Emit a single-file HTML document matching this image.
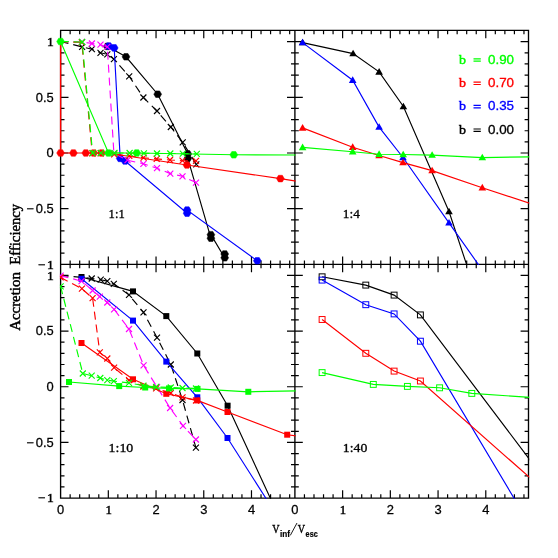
<!DOCTYPE html>
<html>
<head>
<meta charset="utf-8">
<title>Accretion Efficiency</title>
<style>
html,body{margin:0;padding:0;background:#ffffff;}
body{width:558px;height:558px;overflow:hidden;font-family:"Liberation Sans",sans-serif;}
svg{display:block;will-change:transform;}
</style>
</head>
<body>
<svg width="558" height="558" viewBox="0 0 558 558">
<defs>
<clipPath id="c1"><rect x="59.9" y="29.7" width="235.7" height="235.35"/></clipPath>
<clipPath id="c2"><rect x="294.2" y="29.7" width="235" height="235.35"/></clipPath>
<clipPath id="c3"><rect x="59.9" y="263.65" width="235.7" height="235.15"/></clipPath>
<clipPath id="c4"><rect x="294.2" y="263.65" width="235" height="235.15"/></clipPath>
</defs>
<rect width="558" height="558" fill="#ffffff"/>
<path d="M60.6 30.4H528.5V498.1H60.6ZM294.9 30.4V498.1M60.6 264.35H528.5" fill="none" stroke="#000" stroke-width="1.35" stroke-linecap="butt" stroke-linejoin="miter"/>
<path d="M70.14 30.4v3.9M70.14 260.45v7.8M70.14 498.1v-3.9M79.69 30.4v3.9M79.69 260.45v7.8M79.69 498.1v-3.9M89.23 30.4v3.9M89.23 260.45v7.8M89.23 498.1v-3.9M98.78 30.4v3.9M98.78 260.45v7.8M98.78 498.1v-3.9M108.32 30.4v7.9M108.32 256.45v15.8M108.32 498.1v-7.9M117.86 30.4v3.9M117.86 260.45v7.8M117.86 498.1v-3.9M127.41 30.4v3.9M127.41 260.45v7.8M127.41 498.1v-3.9M136.95 30.4v3.9M136.95 260.45v7.8M136.95 498.1v-3.9M146.5 30.4v3.9M146.5 260.45v7.8M146.5 498.1v-3.9M156.04 30.4v7.9M156.04 256.45v15.8M156.04 498.1v-7.9M165.58 30.4v3.9M165.58 260.45v7.8M165.58 498.1v-3.9M175.13 30.4v3.9M175.13 260.45v7.8M175.13 498.1v-3.9M184.67 30.4v3.9M184.67 260.45v7.8M184.67 498.1v-3.9M194.22 30.4v3.9M194.22 260.45v7.8M194.22 498.1v-3.9M203.76 30.4v7.9M203.76 256.45v15.8M203.76 498.1v-7.9M213.3 30.4v3.9M213.3 260.45v7.8M213.3 498.1v-3.9M222.85 30.4v3.9M222.85 260.45v7.8M222.85 498.1v-3.9M232.39 30.4v3.9M232.39 260.45v7.8M232.39 498.1v-3.9M241.94 30.4v3.9M241.94 260.45v7.8M241.94 498.1v-3.9M251.48 30.4v7.9M251.48 256.45v15.8M251.48 498.1v-7.9M261.02 30.4v3.9M261.02 260.45v7.8M261.02 498.1v-3.9M270.57 30.4v3.9M270.57 260.45v7.8M270.57 498.1v-3.9M280.11 30.4v3.9M280.11 260.45v7.8M280.11 498.1v-3.9M289.66 30.4v3.9M289.66 260.45v7.8M289.66 498.1v-3.9M304.44 30.4v3.9M304.44 260.45v7.8M304.44 498.1v-3.9M313.99 30.4v3.9M313.99 260.45v7.8M313.99 498.1v-3.9M323.53 30.4v3.9M323.53 260.45v7.8M323.53 498.1v-3.9M333.08 30.4v3.9M333.08 260.45v7.8M333.08 498.1v-3.9M342.62 30.4v7.9M342.62 256.45v15.8M342.62 498.1v-7.9M352.16 30.4v3.9M352.16 260.45v7.8M352.16 498.1v-3.9M361.71 30.4v3.9M361.71 260.45v7.8M361.71 498.1v-3.9M371.25 30.4v3.9M371.25 260.45v7.8M371.25 498.1v-3.9M380.8 30.4v3.9M380.8 260.45v7.8M380.8 498.1v-3.9M390.34 30.4v7.9M390.34 256.45v15.8M390.34 498.1v-7.9M399.88 30.4v3.9M399.88 260.45v7.8M399.88 498.1v-3.9M409.43 30.4v3.9M409.43 260.45v7.8M409.43 498.1v-3.9M418.97 30.4v3.9M418.97 260.45v7.8M418.97 498.1v-3.9M428.52 30.4v3.9M428.52 260.45v7.8M428.52 498.1v-3.9M438.06 30.4v7.9M438.06 256.45v15.8M438.06 498.1v-7.9M447.6 30.4v3.9M447.6 260.45v7.8M447.6 498.1v-3.9M457.15 30.4v3.9M457.15 260.45v7.8M457.15 498.1v-3.9M466.69 30.4v3.9M466.69 260.45v7.8M466.69 498.1v-3.9M476.24 30.4v3.9M476.24 260.45v7.8M476.24 498.1v-3.9M485.78 30.4v7.9M485.78 256.45v15.8M485.78 498.1v-7.9M495.32 30.4v3.9M495.32 260.45v7.8M495.32 498.1v-3.9M504.87 30.4v3.9M504.87 260.45v7.8M504.87 498.1v-3.9M514.41 30.4v3.9M514.41 260.45v7.8M514.41 498.1v-3.9M523.96 30.4v3.9M523.96 260.45v7.8M523.96 498.1v-3.9M60.6 253.22h3.9M291 253.22h7.8M528.5 253.22h-3.9M60.6 242.08h3.9M291 242.08h7.8M528.5 242.08h-3.9M60.6 230.94h3.9M291 230.94h7.8M528.5 230.94h-3.9M60.6 219.81h3.9M291 219.81h7.8M528.5 219.81h-3.9M60.6 208.68h7.9M287 208.68h15.8M528.5 208.68h-7.9M60.6 197.54h3.9M291 197.54h7.8M528.5 197.54h-3.9M60.6 186.41h3.9M291 186.41h7.8M528.5 186.41h-3.9M60.6 175.27h3.9M291 175.27h7.8M528.5 175.27h-3.9M60.6 164.13h3.9M291 164.13h7.8M528.5 164.13h-3.9M60.6 153h7.9M287 153h15.8M528.5 153h-7.9M60.6 141.87h3.9M291 141.87h7.8M528.5 141.87h-3.9M60.6 130.73h3.9M291 130.73h7.8M528.5 130.73h-3.9M60.6 119.59h3.9M291 119.59h7.8M528.5 119.59h-3.9M60.6 108.46h3.9M291 108.46h7.8M528.5 108.46h-3.9M60.6 97.33h7.9M287 97.33h15.8M528.5 97.33h-7.9M60.6 86.19h3.9M291 86.19h7.8M528.5 86.19h-3.9M60.6 75.05h3.9M291 75.05h7.8M528.5 75.05h-3.9M60.6 63.92h3.9M291 63.92h7.8M528.5 63.92h-3.9M60.6 52.78h3.9M291 52.78h7.8M528.5 52.78h-3.9M60.6 41.65h7.9M287 41.65h15.8M528.5 41.65h-7.9M60.6 486.97h3.9M291 486.97h7.8M528.5 486.97h-3.9M60.6 475.83h3.9M291 475.83h7.8M528.5 475.83h-3.9M60.6 464.69h3.9M291 464.69h7.8M528.5 464.69h-3.9M60.6 453.56h3.9M291 453.56h7.8M528.5 453.56h-3.9M60.6 442.43h7.9M287 442.43h15.8M528.5 442.43h-7.9M60.6 431.29h3.9M291 431.29h7.8M528.5 431.29h-3.9M60.6 420.15h3.9M291 420.15h7.8M528.5 420.15h-3.9M60.6 409.02h3.9M291 409.02h7.8M528.5 409.02h-3.9M60.6 397.88h3.9M291 397.88h7.8M528.5 397.88h-3.9M60.6 386.75h7.9M287 386.75h15.8M528.5 386.75h-7.9M60.6 375.62h3.9M291 375.62h7.8M528.5 375.62h-3.9M60.6 364.48h3.9M291 364.48h7.8M528.5 364.48h-3.9M60.6 353.35h3.9M291 353.35h7.8M528.5 353.35h-3.9M60.6 342.21h3.9M291 342.21h7.8M528.5 342.21h-3.9M60.6 331.07h7.9M287 331.07h15.8M528.5 331.07h-7.9M60.6 319.94h3.9M291 319.94h7.8M528.5 319.94h-3.9M60.6 308.81h3.9M291 308.81h7.8M528.5 308.81h-3.9M60.6 297.67h3.9M291 297.67h7.8M528.5 297.67h-3.9M60.6 286.53h3.9M291 286.53h7.8M528.5 286.53h-3.9M60.6 275.4h7.9M287 275.4h15.8M528.5 275.4h-7.9" fill="none" stroke="#000" stroke-width="1.2" stroke-linecap="butt"/>
<polyline points="107.5,46.4 126,56.8 157.7,94.2 187.8,153.9 187.8,158.4 210.9,238.2 210.9,234.7 224.7,257.8 224.7,254" fill="none" stroke="#000000" stroke-width="1.15" clip-path="url(#c1)"/>
<polygon points="111.4,46.4 109.45,49.71 105.55,49.71 103.6,46.4 105.55,43.09 109.45,43.09" fill="#000000" stroke="#000000" stroke-width="0.5" stroke-linejoin="round"/>
<polygon points="129.9,56.8 127.95,60.11 124.05,60.11 122.1,56.8 124.05,53.49 127.95,53.49" fill="#000000" stroke="#000000" stroke-width="0.5" stroke-linejoin="round"/>
<polygon points="161.6,94.2 159.65,97.51 155.75,97.51 153.8,94.2 155.75,90.89 159.65,90.89" fill="#000000" stroke="#000000" stroke-width="0.5" stroke-linejoin="round"/>
<polygon points="191.7,153.9 189.75,157.21 185.85,157.21 183.9,153.9 185.85,150.59 189.75,150.59" fill="#000000" stroke="#000000" stroke-width="0.5" stroke-linejoin="round"/>
<polygon points="191.7,158.4 189.75,161.71 185.85,161.71 183.9,158.4 185.85,155.09 189.75,155.09" fill="#000000" stroke="#000000" stroke-width="0.5" stroke-linejoin="round"/>
<polygon points="214.8,238.2 212.85,241.51 208.95,241.51 207,238.2 208.95,234.89 212.85,234.89" fill="#000000" stroke="#000000" stroke-width="0.5" stroke-linejoin="round"/>
<polygon points="214.8,234.7 212.85,238.01 208.95,238.01 207,234.7 208.95,231.39 212.85,231.39" fill="#000000" stroke="#000000" stroke-width="0.5" stroke-linejoin="round"/>
<polygon points="228.6,257.8 226.65,261.11 222.75,261.11 220.8,257.8 222.75,254.49 226.65,254.49" fill="#000000" stroke="#000000" stroke-width="0.5" stroke-linejoin="round"/>
<polygon points="228.6,254 226.65,257.31 222.75,257.31 220.8,254 222.75,250.69 226.65,250.69" fill="#000000" stroke="#000000" stroke-width="0.5" stroke-linejoin="round"/>
<polyline points="60.6,41.5 82.1,46.9 91.9,49.2 100.5,52.8 107.3,54.4 113.9,59.1 129.2,76.3 143.4,97.5 157,111 170.8,127 182.7,142.3 196.3,164.4" fill="none" stroke="#000000" stroke-width="1.15" stroke-dasharray="8 5" clip-path="url(#c1)"/>
<path d="M79.1 43.9L85.1 49.9M79.1 49.9L85.1 43.9M88.9 46.2L94.9 52.2M88.9 52.2L94.9 46.2M97.5 49.8L103.5 55.8M97.5 55.8L103.5 49.8M104.3 51.4L110.3 57.4M104.3 57.4L110.3 51.4M110.9 56.1L116.9 62.1M110.9 62.1L116.9 56.1M126.2 73.3L132.2 79.3M126.2 79.3L132.2 73.3M140.4 94.5L146.4 100.5M140.4 100.5L146.4 94.5M154 108L160 114M154 114L160 108M167.8 124L173.8 130M167.8 130L173.8 124M179.7 139.3L185.7 145.3M179.7 145.3L185.7 139.3M193.3 161.4L199.3 167.4M193.3 167.4L199.3 161.4" fill="none" stroke="#000000" stroke-width="1.15" clip-path="url(#c1)"/>
<polyline points="108.8,46.1 114.2,47.9 120.2,158.4 125.1,161 187.1,213.2 187.1,210.1 257.3,260.8" fill="none" stroke="#0000ff" stroke-width="1.15" clip-path="url(#c1)"/>
<polygon points="112.7,46.1 110.75,49.41 106.85,49.41 104.9,46.1 106.85,42.79 110.75,42.79" fill="#0000ff" stroke="#0000ff" stroke-width="0.5" stroke-linejoin="round"/>
<polygon points="118.1,47.9 116.15,51.21 112.25,51.21 110.3,47.9 112.25,44.59 116.15,44.59" fill="#0000ff" stroke="#0000ff" stroke-width="0.5" stroke-linejoin="round"/>
<polygon points="124.1,158.4 122.15,161.71 118.25,161.71 116.3,158.4 118.25,155.09 122.15,155.09" fill="#0000ff" stroke="#0000ff" stroke-width="0.5" stroke-linejoin="round"/>
<polygon points="129,161 127.05,164.31 123.15,164.31 121.2,161 123.15,157.69 127.05,157.69" fill="#0000ff" stroke="#0000ff" stroke-width="0.5" stroke-linejoin="round"/>
<polygon points="191,213.2 189.05,216.51 185.15,216.51 183.2,213.2 185.15,209.89 189.05,209.89" fill="#0000ff" stroke="#0000ff" stroke-width="0.5" stroke-linejoin="round"/>
<polygon points="191,210.1 189.05,213.41 185.15,213.41 183.2,210.1 185.15,206.79 189.05,206.79" fill="#0000ff" stroke="#0000ff" stroke-width="0.5" stroke-linejoin="round"/>
<polygon points="261.2,260.8 259.25,264.11 255.35,264.11 253.4,260.8 255.35,257.49 259.25,257.49" fill="#0000ff" stroke="#0000ff" stroke-width="0.5" stroke-linejoin="round"/>
<polyline points="60.6,41.5 82.1,42 91.9,43.5 100.5,44.7 107.3,46.9 113.9,153.3 127.5,160.2 143.4,163.8 157,168.2 170.3,173.6 182.5,176.3 196,182.6" fill="none" stroke="#ff00ff" stroke-width="1.15" stroke-dasharray="8 5" clip-path="url(#c1)"/>
<path d="M79.1 39L85.1 45M79.1 45L85.1 39M88.9 40.5L94.9 46.5M88.9 46.5L94.9 40.5M97.5 41.7L103.5 47.7M97.5 47.7L103.5 41.7M104.3 43.9L110.3 49.9M104.3 49.9L110.3 43.9M110.9 150.3L116.9 156.3M110.9 156.3L116.9 150.3M124.5 157.2L130.5 163.2M124.5 163.2L130.5 157.2M140.4 160.8L146.4 166.8M140.4 166.8L146.4 160.8M154 165.2L160 171.2M154 171.2L160 165.2M167.3 170.6L173.3 176.6M167.3 176.6L173.3 170.6M179.5 173.3L185.5 179.3M179.5 179.3L185.5 173.3M193 179.6L199 185.6M193 185.6L199 179.6" fill="none" stroke="#ff00ff" stroke-width="1.15" clip-path="url(#c1)"/>
<polyline points="60.6,153 73.4,153 85.8,153 93.7,153 101.6,153 108.5,153.3 186.9,165 280.4,178.6 297,181.2" fill="none" stroke="#ff0000" stroke-width="1.15" clip-path="url(#c1)"/>
<path d="M60.6 41.5V153" stroke="#ff0000" stroke-width="1.4" fill="none"/>
<polygon points="64.5,153 62.55,156.31 58.65,156.31 56.7,153 58.65,149.69 62.55,149.69" fill="#ff0000" stroke="#ff0000" stroke-width="0.5" stroke-linejoin="round"/>
<polygon points="77.3,153 75.35,156.31 71.45,156.31 69.5,153 71.45,149.69 75.35,149.69" fill="#ff0000" stroke="#ff0000" stroke-width="0.5" stroke-linejoin="round"/>
<polygon points="89.7,153 87.75,156.31 83.85,156.31 81.9,153 83.85,149.69 87.75,149.69" fill="#ff0000" stroke="#ff0000" stroke-width="0.5" stroke-linejoin="round"/>
<polygon points="97.6,153 95.65,156.31 91.75,156.31 89.8,153 91.75,149.69 95.65,149.69" fill="#ff0000" stroke="#ff0000" stroke-width="0.5" stroke-linejoin="round"/>
<polygon points="105.5,153 103.55,156.31 99.65,156.31 97.7,153 99.65,149.69 103.55,149.69" fill="#ff0000" stroke="#ff0000" stroke-width="0.5" stroke-linejoin="round"/>
<polygon points="190.8,165 188.85,168.31 184.95,168.31 183,165 184.95,161.69 188.85,161.69" fill="#ff0000" stroke="#ff0000" stroke-width="0.5" stroke-linejoin="round"/>
<polygon points="284.3,178.6 282.35,181.91 278.45,181.91 276.5,178.6 278.45,175.29 282.35,175.29" fill="#ff0000" stroke="#ff0000" stroke-width="0.5" stroke-linejoin="round"/>
<polyline points="60.25,41.8 81.75,42.3 92.25,153.3 100.55,153.3 114.15,154.3 129.25,155.9 143.55,157.7 156.65,158.9 169.95,160 182.45,160.7 195.95,160.9" fill="none" stroke="#ff0000" stroke-width="1.15" stroke-dasharray="8 5" clip-path="url(#c1)"/>
<path d="M78.8 39.3L84.8 45.3M78.8 45.3L84.8 39.3M89.3 150.3L95.3 156.3M89.3 156.3L95.3 150.3M97.6 150.3L103.6 156.3M97.6 156.3L103.6 150.3M111.2 151.3L117.2 157.3M111.2 157.3L117.2 151.3M126.3 152.9L132.3 158.9M126.3 158.9L132.3 152.9M140.6 154.7L146.6 160.7M140.6 160.7L146.6 154.7M153.7 155.9L159.7 161.9M153.7 161.9L159.7 155.9M167 157L173 163M167 163L173 157M179.5 157.7L185.5 163.7M179.5 163.7L185.5 157.7M193 157.9L199 163.9M193 163.9L199 157.9" fill="none" stroke="#ff0000" stroke-width="1.15" clip-path="url(#c1)"/>
<polyline points="60.6,41.5 108.5,153 136.7,153 233.8,154.8 297,155" fill="none" stroke="#00ff00" stroke-width="1.15" clip-path="url(#c1)"/>
<polygon points="64.5,41.5 62.55,44.81 58.65,44.81 56.7,41.5 58.65,38.19 62.55,38.19" fill="#00ff00" stroke="#00ff00" stroke-width="0.5" stroke-linejoin="round"/>
<polygon points="112.4,153 110.45,156.31 106.55,156.31 104.6,153 106.55,149.69 110.45,149.69" fill="#00ff00" stroke="#00ff00" stroke-width="0.5" stroke-linejoin="round"/>
<polygon points="140.6,153 138.65,156.31 134.75,156.31 132.8,153 134.75,149.69 138.65,149.69" fill="#00ff00" stroke="#00ff00" stroke-width="0.5" stroke-linejoin="round"/>
<polygon points="237.7,154.8 235.75,158.11 231.85,158.11 229.9,154.8 231.85,151.49 235.75,151.49" fill="#00ff00" stroke="#00ff00" stroke-width="0.5" stroke-linejoin="round"/>
<polyline points="60.6,41.5 82.1,42 92.6,153 100.9,153 114.5,153 129.6,153 143.9,153.4 157,153.5 170.3,153.5 182.8,153.6 196.8,153.9" fill="none" stroke="#00ff00" stroke-width="1.15" stroke-dasharray="8 5" clip-path="url(#c1)"/>
<path d="M79.1 39L85.1 45M79.1 45L85.1 39M89.6 150L95.6 156M89.6 156L95.6 150M97.9 150L103.9 156M97.9 156L103.9 150M111.5 150L117.5 156M111.5 156L117.5 150M126.6 150L132.6 156M126.6 156L132.6 150M140.9 150.4L146.9 156.4M140.9 156.4L146.9 150.4M154 150.5L160 156.5M154 156.5L160 150.5M167.3 150.5L173.3 156.5M167.3 156.5L173.3 150.5M179.8 150.6L185.8 156.6M179.8 156.6L185.8 150.6M193.8 150.9L199.8 156.9M193.8 156.9L199.8 150.9" fill="none" stroke="#00ff00" stroke-width="1.15" clip-path="url(#c1)"/>
<polyline points="302.6,42.6 353.1,53.6 379.1,71.9 403.4,106.5 449,211.5 467.2,266.4" fill="none" stroke="#000000" stroke-width="1.15" clip-path="url(#c2)"/>
<polygon points="302.6,38.77 298.8,45.37 306.4,45.37" fill="#000000"/>
<polygon points="353.1,49.77 349.3,56.37 356.9,56.37" fill="#000000"/>
<polygon points="379.1,68.07 375.3,74.67 382.9,74.67" fill="#000000"/>
<polygon points="403.4,102.67 399.6,109.27 407.2,109.27" fill="#000000"/>
<polygon points="449,207.67 445.2,214.27 452.8,214.27" fill="#000000"/>
<polyline points="302.6,42.6 352.7,80.2 379.1,127.1 403,157.5 449,222.8 479.7,266.4" fill="none" stroke="#0000ff" stroke-width="1.15" clip-path="url(#c2)"/>
<polygon points="302.6,38.77 298.8,45.37 306.4,45.37" fill="#0000ff"/>
<polygon points="352.7,76.37 348.9,82.97 356.5,82.97" fill="#0000ff"/>
<polygon points="379.1,123.27 375.3,129.87 382.9,129.87" fill="#0000ff"/>
<polygon points="403,153.67 399.2,160.27 406.8,160.27" fill="#0000ff"/>
<polygon points="449,218.97 445.2,225.57 452.8,225.57" fill="#0000ff"/>
<polyline points="302.6,127.9 352.7,147.2 379.1,155.5 403,162.6 432.1,170.6 482.3,187.7 531,203.7" fill="none" stroke="#ff0000" stroke-width="1.15" clip-path="url(#c2)"/>
<polygon points="302.6,124.07 298.8,130.67 306.4,130.67" fill="#ff0000"/>
<polygon points="352.7,143.37 348.9,149.97 356.5,149.97" fill="#ff0000"/>
<polygon points="379.1,151.67 375.3,158.27 382.9,158.27" fill="#ff0000"/>
<polygon points="403,158.77 399.2,165.37 406.8,165.37" fill="#ff0000"/>
<polygon points="432.1,166.77 428.3,173.37 435.9,173.37" fill="#ff0000"/>
<polygon points="482.3,183.87 478.5,190.47 486.1,190.47" fill="#ff0000"/>
<polyline points="302.6,147.4 352.7,151.7 379.1,154.2 403.2,154.5 432.1,155.1 482.3,157.6 531,156.8" fill="none" stroke="#00ff00" stroke-width="1.15" clip-path="url(#c2)"/>
<polygon points="302.6,143.57 298.8,150.17 306.4,150.17" fill="#00ff00"/>
<polygon points="352.7,147.87 348.9,154.47 356.5,154.47" fill="#00ff00"/>
<polygon points="379.1,150.37 375.3,156.97 382.9,156.97" fill="#00ff00"/>
<polygon points="403.2,150.67 399.4,157.27 407,157.27" fill="#00ff00"/>
<polygon points="432.1,151.27 428.3,157.87 435.9,157.87" fill="#00ff00"/>
<polygon points="482.3,153.77 478.5,160.37 486.1,160.37" fill="#00ff00"/>
<polyline points="81.5,277 133,291.4 166.3,316.1 197.3,353.5 227.6,405.7 271.4,500.5" fill="none" stroke="#000000" stroke-width="1.15" clip-path="url(#c3)"/>
<rect x="78.5" y="274" width="6" height="6" fill="#000000"/>
<rect x="130" y="288.4" width="6" height="6" fill="#000000"/>
<rect x="163.3" y="313.1" width="6" height="6" fill="#000000"/>
<rect x="194.3" y="350.5" width="6" height="6" fill="#000000"/>
<rect x="224.6" y="402.7" width="6" height="6" fill="#000000"/>
<polyline points="60.6,275.5 81.5,277.4 91.7,278.5 100.7,279.7 107.3,281.1 113.8,283.8 129,294.9 143.5,312.4 157,337.6 170.8,364.5 182.5,400 195.9,447.7" fill="none" stroke="#000000" stroke-width="1.15" stroke-dasharray="8 5" clip-path="url(#c3)"/>
<path d="M88.7 275.5L94.7 281.5M88.7 281.5L94.7 275.5M97.7 276.7L103.7 282.7M97.7 282.7L103.7 276.7M104.3 278.1L110.3 284.1M104.3 284.1L110.3 278.1M110.8 280.8L116.8 286.8M110.8 286.8L116.8 280.8M126 291.9L132 297.9M126 297.9L132 291.9M140.5 309.4L146.5 315.4M140.5 315.4L146.5 309.4M154 334.6L160 340.6M154 340.6L160 334.6M167.8 361.5L173.8 367.5M167.8 367.5L173.8 361.5M179.5 397L185.5 403M179.5 403L185.5 397M192.9 444.7L198.9 450.7M192.9 450.7L198.9 444.7" fill="none" stroke="#000000" stroke-width="1.15" clip-path="url(#c3)"/>
<polyline points="81.5,278.8 133,320.6 166.3,361.6 197.3,397.3 227.5,438 267,500" fill="none" stroke="#0000ff" stroke-width="1.15" clip-path="url(#c3)"/>
<rect x="78.5" y="275.8" width="6" height="6" fill="#0000ff"/>
<rect x="130" y="317.6" width="6" height="6" fill="#0000ff"/>
<rect x="163.3" y="358.6" width="6" height="6" fill="#0000ff"/>
<rect x="194.3" y="394.3" width="6" height="6" fill="#0000ff"/>
<rect x="224.5" y="435" width="6" height="6" fill="#0000ff"/>
<polyline points="60.6,275.6 81.5,281.1 92.6,290.5 99.8,296.7 107.3,302.5 114.1,309.3 129,329 143.6,365.4 157,387 170.1,408 183,425.8 195.9,439.5" fill="none" stroke="#ff00ff" stroke-width="1.15" stroke-dasharray="8 5" clip-path="url(#c3)"/>
<path d="M57.6 272.6L63.6 278.6M57.6 278.6L63.6 272.6M78.5 278.1L84.5 284.1M78.5 284.1L84.5 278.1M89.6 287.5L95.6 293.5M89.6 293.5L95.6 287.5M96.8 293.7L102.8 299.7M96.8 299.7L102.8 293.7M104.3 299.5L110.3 305.5M104.3 305.5L110.3 299.5M111.1 306.3L117.1 312.3M111.1 312.3L117.1 306.3M126 326L132 332M126 332L132 326M140.6 362.4L146.6 368.4M140.6 368.4L146.6 362.4M154 384L160 390M154 390L160 384M167.1 405L173.1 411M167.1 411L173.1 405M180 422.8L186 428.8M180 428.8L186 422.8M192.9 436.5L198.9 442.5M192.9 442.5L198.9 436.5" fill="none" stroke="#ff00ff" stroke-width="1.15" clip-path="url(#c3)"/>
<polyline points="81.5,343 133,379.3 166.3,393.8 197.3,400.4 227.5,412 287.2,434.7 297,436" fill="none" stroke="#ff0000" stroke-width="1.15" clip-path="url(#c3)"/>
<rect x="78.5" y="340" width="6" height="6" fill="#ff0000"/>
<rect x="130" y="376.3" width="6" height="6" fill="#ff0000"/>
<rect x="163.3" y="390.8" width="6" height="6" fill="#ff0000"/>
<rect x="194.3" y="397.4" width="6" height="6" fill="#ff0000"/>
<rect x="224.5" y="409" width="6" height="6" fill="#ff0000"/>
<rect x="284.2" y="431.7" width="6" height="6" fill="#ff0000"/>
<polyline points="60.6,277.4 81.9,288.7 92.6,298.2 99.8,352.4 107.3,358.5 114.1,367.6 129,380.2 143.4,386.5 156.1,388.4 170.8,393 182.5,397.3 196,400.5" fill="none" stroke="#ff0000" stroke-width="1.15" stroke-dasharray="8 5" clip-path="url(#c3)"/>
<path d="M57.6 274.4L63.6 280.4M57.6 280.4L63.6 274.4M78.9 285.7L84.9 291.7M78.9 291.7L84.9 285.7M89.6 295.2L95.6 301.2M89.6 301.2L95.6 295.2M96.8 349.4L102.8 355.4M96.8 355.4L102.8 349.4M104.3 355.5L110.3 361.5M104.3 361.5L110.3 355.5M111.1 364.6L117.1 370.6M111.1 370.6L117.1 364.6M126 377.2L132 383.2M126 383.2L132 377.2M140.4 383.5L146.4 389.5M140.4 389.5L146.4 383.5M153.1 385.4L159.1 391.4M153.1 391.4L159.1 385.4M167.8 390L173.8 396M167.8 396L173.8 390M179.5 394.3L185.5 400.3M179.5 400.3L185.5 394.3M193 397.5L199 403.5M193 403.5L199 397.5" fill="none" stroke="#ff0000" stroke-width="1.15" clip-path="url(#c3)"/>
<polyline points="69,382 119.2,386.1 145.2,387.5 169,388.4 197.5,388.9 248.3,391.8 297,390.8" fill="none" stroke="#00ff00" stroke-width="1.15" clip-path="url(#c3)"/>
<rect x="66" y="379" width="6" height="6" fill="#00ff00"/>
<rect x="116.2" y="383.1" width="6" height="6" fill="#00ff00"/>
<rect x="142.2" y="384.5" width="6" height="6" fill="#00ff00"/>
<rect x="166" y="385.4" width="6" height="6" fill="#00ff00"/>
<rect x="194.5" y="385.9" width="6" height="6" fill="#00ff00"/>
<rect x="245.3" y="388.8" width="6" height="6" fill="#00ff00"/>
<polyline points="60.6,286.4 82.8,373.5 91.7,375.7 100.3,378 107.3,380.2 113.8,381.1 129,382.9 143.4,385.6 156.1,387 170.8,387.5 182.5,388 196,388.5" fill="none" stroke="#00ff00" stroke-width="1.15" stroke-dasharray="8 5" clip-path="url(#c3)"/>
<path d="M57.6 283.4L63.6 289.4M57.6 289.4L63.6 283.4M79.8 370.5L85.8 376.5M79.8 376.5L85.8 370.5M88.7 372.7L94.7 378.7M88.7 378.7L94.7 372.7M97.3 375L103.3 381M97.3 381L103.3 375M104.3 377.2L110.3 383.2M104.3 383.2L110.3 377.2M110.8 378.1L116.8 384.1M110.8 384.1L116.8 378.1M126 379.9L132 385.9M126 385.9L132 379.9M140.4 382.6L146.4 388.6M140.4 388.6L146.4 382.6M153.1 384L159.1 390M153.1 390L159.1 384M167.8 384.5L173.8 390.5M167.8 390.5L173.8 384.5M179.5 385L185.5 391M179.5 391L185.5 385M193 385.5L199 391.5M193 391.5L199 385.5" fill="none" stroke="#00ff00" stroke-width="1.15" clip-path="url(#c3)"/>
<polyline points="322.1,276.8 365.8,285.1 394.1,295.1 420.4,314.9 531,461.3" fill="none" stroke="#000000" stroke-width="1.15" clip-path="url(#c4)"/>
<rect x="319.15" y="273.85" width="5.9" height="5.9" fill="none" stroke="#000000" stroke-width="1"/>
<rect x="362.85" y="282.15" width="5.9" height="5.9" fill="none" stroke="#000000" stroke-width="1"/>
<rect x="391.15" y="292.15" width="5.9" height="5.9" fill="none" stroke="#000000" stroke-width="1"/>
<rect x="417.45" y="311.95" width="5.9" height="5.9" fill="none" stroke="#000000" stroke-width="1"/>
<polyline points="322.1,280.1 365.8,304.7 394.1,313.9 420.4,341.2 516,501.5" fill="none" stroke="#0000ff" stroke-width="1.15" clip-path="url(#c4)"/>
<rect x="319.15" y="277.15" width="5.9" height="5.9" fill="none" stroke="#0000ff" stroke-width="1"/>
<rect x="362.85" y="301.75" width="5.9" height="5.9" fill="none" stroke="#0000ff" stroke-width="1"/>
<rect x="391.15" y="310.95" width="5.9" height="5.9" fill="none" stroke="#0000ff" stroke-width="1"/>
<rect x="417.45" y="338.25" width="5.9" height="5.9" fill="none" stroke="#0000ff" stroke-width="1"/>
<polyline points="322.1,319.5 365.8,353.3 394.1,371.1 420.4,381 531,478.7" fill="none" stroke="#ff0000" stroke-width="1.15" clip-path="url(#c4)"/>
<rect x="319.15" y="316.55" width="5.9" height="5.9" fill="none" stroke="#ff0000" stroke-width="1"/>
<rect x="362.85" y="350.35" width="5.9" height="5.9" fill="none" stroke="#ff0000" stroke-width="1"/>
<rect x="391.15" y="368.15" width="5.9" height="5.9" fill="none" stroke="#ff0000" stroke-width="1"/>
<rect x="417.45" y="378.05" width="5.9" height="5.9" fill="none" stroke="#ff0000" stroke-width="1"/>
<polyline points="322.1,372.6 373.3,384.4 407.4,386.4 439.6,387.8 471.8,393.4 531,397.5" fill="none" stroke="#00ff00" stroke-width="1.15" clip-path="url(#c4)"/>
<rect x="319.15" y="369.65" width="5.9" height="5.9" fill="none" stroke="#00ff00" stroke-width="1"/>
<rect x="370.35" y="381.45" width="5.9" height="5.9" fill="none" stroke="#00ff00" stroke-width="1"/>
<rect x="404.45" y="383.45" width="5.9" height="5.9" fill="none" stroke="#00ff00" stroke-width="1"/>
<rect x="436.65" y="384.85" width="5.9" height="5.9" fill="none" stroke="#00ff00" stroke-width="1"/>
<rect x="468.85" y="390.45" width="5.9" height="5.9" fill="none" stroke="#00ff00" stroke-width="1"/>
<text transform="translate(53.7 46) scale(1.06 1)" font-size="12.2" font-family="Liberation Sans, sans-serif" text-anchor="end" fill="#000" stroke="#000" stroke-width="0.25"><tspan font-family="Liberation Serif, serif" font-size="12.8" stroke-width="0.5">1</tspan></text>
<text transform="translate(53.7 101.67) scale(1.06 1)" font-size="12.2" font-family="Liberation Sans, sans-serif" text-anchor="end" fill="#000" stroke="#000" stroke-width="0.25">0.5</text>
<text transform="translate(53.7 157.35) scale(1.06 1)" font-size="12.2" font-family="Liberation Sans, sans-serif" text-anchor="end" fill="#000" stroke="#000" stroke-width="0.25">0</text>
<text transform="translate(53.7 213.03) scale(1.06 1)" font-size="12.2" font-family="Liberation Sans, sans-serif" text-anchor="end" fill="#000" stroke="#000" stroke-width="0.25">−<tspan dx="1.9">0.5</tspan></text>
<text transform="translate(53.7 268.7) scale(1.06 1)" font-size="12.2" font-family="Liberation Sans, sans-serif" text-anchor="end" fill="#000" stroke="#000" stroke-width="0.25">−<tspan dx="1.6" font-family="Liberation Serif, serif" font-size="12.8" stroke-width="0.5">1</tspan></text>
<text transform="translate(53.7 279.75) scale(1.06 1)" font-size="12.2" font-family="Liberation Sans, sans-serif" text-anchor="end" fill="#000" stroke="#000" stroke-width="0.25"><tspan font-family="Liberation Serif, serif" font-size="12.8" stroke-width="0.5">1</tspan></text>
<text transform="translate(53.7 335.43) scale(1.06 1)" font-size="12.2" font-family="Liberation Sans, sans-serif" text-anchor="end" fill="#000" stroke="#000" stroke-width="0.25">0.5</text>
<text transform="translate(53.7 391.1) scale(1.06 1)" font-size="12.2" font-family="Liberation Sans, sans-serif" text-anchor="end" fill="#000" stroke="#000" stroke-width="0.25">0</text>
<text transform="translate(53.7 446.78) scale(1.06 1)" font-size="12.2" font-family="Liberation Sans, sans-serif" text-anchor="end" fill="#000" stroke="#000" stroke-width="0.25">−<tspan dx="1.9">0.5</tspan></text>
<text transform="translate(53.7 502.45) scale(1.06 1)" font-size="12.2" font-family="Liberation Sans, sans-serif" text-anchor="end" fill="#000" stroke="#000" stroke-width="0.25">−<tspan dx="1.6" font-family="Liberation Serif, serif" font-size="12.8" stroke-width="0.5">1</tspan></text>
<text transform="translate(60.6 513.5) scale(1.06 1)" font-size="12.2" font-family="Liberation Sans, sans-serif" text-anchor="middle" fill="#000" stroke="#000" stroke-width="0.25">0</text>
<text x="108.72" y="513.6" font-size="12.8" font-family="Liberation Serif, serif" text-anchor="middle" fill="#000" stroke="#000" stroke-width="0.5">1</text>
<text transform="translate(156.04 513.5) scale(1.06 1)" font-size="12.2" font-family="Liberation Sans, sans-serif" text-anchor="middle" fill="#000" stroke="#000" stroke-width="0.25">2</text>
<text transform="translate(203.76 513.5) scale(1.06 1)" font-size="12.2" font-family="Liberation Sans, sans-serif" text-anchor="middle" fill="#000" stroke="#000" stroke-width="0.25">3</text>
<text transform="translate(251.48 513.5) scale(1.06 1)" font-size="12.2" font-family="Liberation Sans, sans-serif" text-anchor="middle" fill="#000" stroke="#000" stroke-width="0.25">4</text>
<text transform="translate(294.9 513.5) scale(1.06 1)" font-size="12.2" font-family="Liberation Sans, sans-serif" text-anchor="middle" fill="#000" stroke="#000" stroke-width="0.25">0</text>
<text x="343.02" y="513.6" font-size="12.8" font-family="Liberation Serif, serif" text-anchor="middle" fill="#000" stroke="#000" stroke-width="0.5">1</text>
<text transform="translate(390.34 513.5) scale(1.06 1)" font-size="12.2" font-family="Liberation Sans, sans-serif" text-anchor="middle" fill="#000" stroke="#000" stroke-width="0.25">2</text>
<text transform="translate(438.06 513.5) scale(1.06 1)" font-size="12.2" font-family="Liberation Sans, sans-serif" text-anchor="middle" fill="#000" stroke="#000" stroke-width="0.25">3</text>
<text transform="translate(485.78 513.5) scale(1.06 1)" font-size="12.2" font-family="Liberation Sans, sans-serif" text-anchor="middle" fill="#000" stroke="#000" stroke-width="0.25">4</text>
<text x="108.6" y="217.7" font-size="13" font-family="Liberation Serif, serif" text-anchor="start" fill="#000" textLength="16.1" lengthAdjust="spacingAndGlyphs" stroke="#000" stroke-width="0.32">1:1</text>
<text x="342.8" y="217.7" font-size="13" font-family="Liberation Serif, serif" text-anchor="start" fill="#000" textLength="17" lengthAdjust="spacingAndGlyphs" stroke="#000" stroke-width="0.32">1:4</text>
<text x="108.6" y="451.7" font-size="13" font-family="Liberation Serif, serif" text-anchor="start" fill="#000" textLength="24.7" lengthAdjust="spacingAndGlyphs" stroke="#000" stroke-width="0.32">1:10</text>
<text x="342.8" y="451.7" font-size="13" font-family="Liberation Serif, serif" text-anchor="start" fill="#000" textLength="24.5" lengthAdjust="spacingAndGlyphs" stroke="#000" stroke-width="0.32">1:40</text>
<text x="459" y="63.7" font-size="13.5" font-family="Liberation Serif, serif" text-anchor="start" fill="#00ff00" textLength="7" lengthAdjust="spacingAndGlyphs" stroke="#00ff00" stroke-width="0.45">b</text>
<path d="M473.5 58.8h7.3M473.5 61.2h7.3" stroke="#00ff00" stroke-width="1.2" fill="none"/>
<text x="488" y="63.7" font-size="12" font-family="Liberation Sans, sans-serif" text-anchor="start" fill="#00ff00" textLength="26" lengthAdjust="spacingAndGlyphs" stroke="#00ff00" stroke-width="0.3">0.90</text>
<text x="459" y="87" font-size="13.5" font-family="Liberation Serif, serif" text-anchor="start" fill="#ff0000" textLength="7" lengthAdjust="spacingAndGlyphs" stroke="#ff0000" stroke-width="0.45">b</text>
<path d="M473.5 82.1h7.3M473.5 84.5h7.3" stroke="#ff0000" stroke-width="1.2" fill="none"/>
<text x="488" y="87" font-size="12" font-family="Liberation Sans, sans-serif" text-anchor="start" fill="#ff0000" textLength="26" lengthAdjust="spacingAndGlyphs" stroke="#ff0000" stroke-width="0.3">0.70</text>
<text x="459" y="110.3" font-size="13.5" font-family="Liberation Serif, serif" text-anchor="start" fill="#0000ff" textLength="7" lengthAdjust="spacingAndGlyphs" stroke="#0000ff" stroke-width="0.45">b</text>
<path d="M473.5 105.4h7.3M473.5 107.8h7.3" stroke="#0000ff" stroke-width="1.2" fill="none"/>
<text x="488" y="110.3" font-size="12" font-family="Liberation Sans, sans-serif" text-anchor="start" fill="#0000ff" textLength="26" lengthAdjust="spacingAndGlyphs" stroke="#0000ff" stroke-width="0.3">0.35</text>
<text x="459" y="133.9" font-size="13.5" font-family="Liberation Serif, serif" text-anchor="start" fill="#000000" textLength="7" lengthAdjust="spacingAndGlyphs" stroke="#000000" stroke-width="0.45">b</text>
<path d="M473.5 129h7.3M473.5 131.4h7.3" stroke="#000000" stroke-width="1.2" fill="none"/>
<text x="488" y="133.9" font-size="12" font-family="Liberation Sans, sans-serif" text-anchor="start" fill="#000000" textLength="26" lengthAdjust="spacingAndGlyphs" stroke="#000000" stroke-width="0.3">0.00</text>
<text transform="translate(19.5 330.8) rotate(-90)" font-size="14" font-family="Liberation Serif, serif" fill="#000" stroke="#000" stroke-width="0.45" textLength="58.7" style="font-variant-ligatures:none" lengthAdjust="spacingAndGlyphs">Accretion</text>
<text transform="translate(19.5 264.7) rotate(-90)" font-size="14" font-family="Liberation Serif, serif" fill="#000" stroke="#000" stroke-width="0.45" textLength="60.9" style="font-variant-ligatures:none" lengthAdjust="spacingAndGlyphs">Efficiency</text>
<text x="272.3" y="532.7" font-size="13" font-family="Liberation Serif, serif" text-anchor="start" fill="#000" textLength="7.3" lengthAdjust="spacingAndGlyphs" stroke="#000" stroke-width="0.4">V</text>
<text x="280" y="536.5" font-size="8.5" font-family="Liberation Sans, sans-serif" font-weight="bold" text-anchor="start" fill="#000" textLength="10" lengthAdjust="spacingAndGlyphs" stroke="#000" stroke-width="0.2">inf</text>
<path d="M290.3 535.4L297 523" stroke="#000" stroke-width="0.9" fill="none"/>
<text x="297.8" y="532.7" font-size="13" font-family="Liberation Serif, serif" text-anchor="start" fill="#000" textLength="7.3" lengthAdjust="spacingAndGlyphs" stroke="#000" stroke-width="0.4">V</text>
<text x="305.6" y="536.5" font-size="8.5" font-family="Liberation Sans, sans-serif" font-weight="bold" text-anchor="start" fill="#000" textLength="12.1" lengthAdjust="spacingAndGlyphs" stroke="#000" stroke-width="0.2">esc</text>
</svg>
</body>
</html>
